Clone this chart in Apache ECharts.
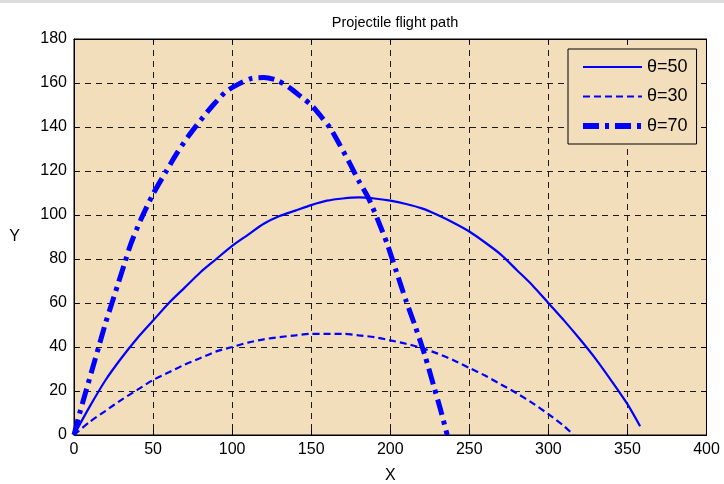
<!DOCTYPE html>
<html>
<head>
<meta charset="utf-8">
<title>Projectile flight path</title>
<script src="https://cdn.jsdelivr.net/npm/echarts@6/dist/echarts.min.js"></script>
<style>
  html, body { margin: 0; padding: 0; background: #ffffff; }
  #chart { width: 724px; height: 484px; }
</style>
</head>
<body>
<div id="chart"></div>
<script>
// Trajectories for three launch angles (horizontal distance X, height Y)
const x50 = [0, 10, 20, 30, 40, 50, 60, 70, 80, 90, 100, 110, 120, 130, 140, 150, 160, 170, 180, 190, 200, 210, 220, 230, 240, 250, 260, 270, 280, 290, 300, 310, 320, 330, 340, 350, 358];
const y50 = [0, 13, 25, 35, 44, 52, 60, 67, 74, 80, 86, 91, 96, 99.5, 102, 104.5, 106.5, 107.5, 108, 107.5, 106.5, 105, 103, 100, 96.5, 92.5, 87.5, 82, 75, 68, 60, 52, 43.5, 34.5, 24.5, 14, 4];

const x30 = [0, 10, 20, 30, 40, 50, 60, 70, 80, 90, 100, 110, 120, 130, 140, 150, 160, 170, 180, 190, 200, 210, 220, 230, 240, 250, 260, 270, 280, 290, 300, 310, 316];
const y30 = [0, 6, 11, 16, 20.5, 25, 28.5, 32, 35, 38, 40, 42, 43.5, 44.5, 45.3, 46, 46, 46, 45.3, 44.5, 43, 41.5, 39.5, 37, 34, 30.5, 27, 23, 19, 14.5, 9.5, 4, 0];

const x70 = [0, 4, 8, 12, 16, 20, 24, 28, 32, 36, 42, 50, 58, 65, 72, 80, 88, 96, 104, 112, 120, 128, 136, 144, 150, 156, 162, 168, 174, 180, 186, 192, 198, 204, 210, 216, 222, 228, 232, 236];
const y70 = [0, 11, 21, 31, 41, 51, 60, 69, 78, 87, 97.5, 109.5, 119.5, 128, 135.5, 143, 150, 156, 159.5, 162, 162.5, 161.3, 158, 153.5, 150, 145, 139.5, 132, 124, 115.6, 108, 98, 87, 74, 61, 49, 36, 21, 11, 0];

const seriesNames = ['θ=50', 'θ=30', 'θ=70'];
const xTicks = [0, 50, 100, 150, 200, 250, 300, 350, 400];
const yTicks = [0, 20, 40, 60, 80, 100, 120, 140, 160, 180];

const pairs = (xs, ys) => xs.map((x, i) => [x, ys[i]]);

const FONT = '"Liberation Sans", Arial, Helvetica, sans-serif';
const BLUE = '#0000ff';
const PLOT_BG = '#F3DEBB';

const styles = [
  { color: BLUE, width: 2.2, type: 'solid' },
  { color: BLUE, width: 2.2, type: [7, 4] },
  { color: BLUE, width: 5, type: [16, 6, 4, 6] }
];

const chart = echarts.init(document.getElementById('chart'), null, { renderer: 'canvas' });

const gridDash = { show: true, lineStyle: { color: '#1a1a1a', width: 1, type: [6, 5] } };
const inTicks = { show: true, inside: true, length: 5, lineStyle: { color: '#000', width: 1 } };
const axisLineBlack = { show: true, onZero: false, lineStyle: { color: '#000', width: 1 } };

chart.setOption({
  animation: false,
  backgroundColor: '#ffffff',
  textStyle: { fontFamily: FONT },
  title: {
    text: 'Projectile flight path',
    left: 390,
    textAlign: 'center',
    top: 10,
    textStyle: { fontFamily: FONT, fontSize: 14.5, fontWeight: 'normal', color: '#000' }
  },
  graphic: [
    { type: 'rect', shape: { x: 0, y: 0, width: 724, height: 3 }, style: { fill: '#dcdcdc' }, silent: true }
  ],
  legend: {
    orient: 'vertical',
    left: 568,
    top: 49,
    padding: [9, 9, 9, 12],
    itemGap: 11.5,
    itemWidth: 59,
    itemHeight: 14,
    borderColor: '#000',
    borderWidth: 1,
    backgroundColor: PLOT_BG,
    itemStyle: { opacity: 0 },
    data: seriesNames.map((name, i) => ({
      name: name,
      lineStyle: { width: i === 2 ? 6 : 2.2, type: styles[i].type, color: BLUE }
    })),
    textStyle: { fontFamily: FONT, fontSize: 18, color: '#000' }
  },
  grid: {
    left: 74,
    right: 17.5,
    top: 39,
    bottom: 49,
    outerBoundsMode: 'none',
    show: true,
    backgroundColor: PLOT_BG,
    borderColor: '#000',
    borderWidth: 1
  },
  xAxis: [
    {
      type: 'value',
      min: xTicks[0],
      max: xTicks[xTicks.length - 1],
      interval: xTicks[1] - xTicks[0],
      position: 'bottom',
      name: 'X',
      nameLocation: 'middle',
      nameGap: 33,
      nameTextStyle: { fontFamily: FONT, fontSize: 16, color: '#000' },
      axisLine: axisLineBlack,
      axisTick: inTicks,
      axisLabel: { color: '#000', fontSize: 16, fontFamily: FONT, margin: 7 },
      splitLine: gridDash
    },
    {
      type: 'value',
      min: xTicks[0],
      max: xTicks[xTicks.length - 1],
      interval: xTicks[1] - xTicks[0],
      position: 'top',
      axisLine: axisLineBlack,
      axisTick: inTicks,
      axisLabel: { show: false },
      splitLine: { show: false }
    }
  ],
  yAxis: [
    {
      type: 'value',
      min: yTicks[0],
      max: yTicks[yTicks.length - 1],
      interval: yTicks[1] - yTicks[0],
      position: 'left',
      name: 'Y',
      nameLocation: 'middle',
      nameRotate: 0,
      nameGap: 54,
      nameTextStyle: { fontFamily: FONT, fontSize: 16, color: '#000', padding: [8, 0, 0, 0] },
      axisLine: axisLineBlack,
      axisTick: inTicks,
      axisLabel: { color: '#000', fontSize: 16, fontFamily: FONT, margin: 7 },
      splitLine: gridDash
    },
    {
      type: 'value',
      min: yTicks[0],
      max: yTicks[yTicks.length - 1],
      interval: yTicks[1] - yTicks[0],
      position: 'right',
      axisLine: axisLineBlack,
      axisTick: inTicks,
      axisLabel: { show: false },
      splitLine: { show: false }
    }
  ],
  series: [
    {
      name: seriesNames[0],
      type: 'line',
      data: pairs(x50, y50),
      symbol: 'none',
      smooth: 0.25,
      lineStyle: styles[0],
      itemStyle: { color: BLUE },
      z: 3
    },
    {
      name: seriesNames[1],
      type: 'line',
      data: pairs(x30, y30),
      symbol: 'none',
      smooth: 0.25,
      lineStyle: styles[1],
      itemStyle: { color: BLUE },
      z: 3
    },
    {
      name: seriesNames[2],
      type: 'line',
      data: pairs(x70, y70),
      symbol: 'none',
      smooth: 0.25,
      lineStyle: styles[2],
      itemStyle: { color: BLUE },
      z: 3
    }
  ]
});
</script>
</body>
</html>
